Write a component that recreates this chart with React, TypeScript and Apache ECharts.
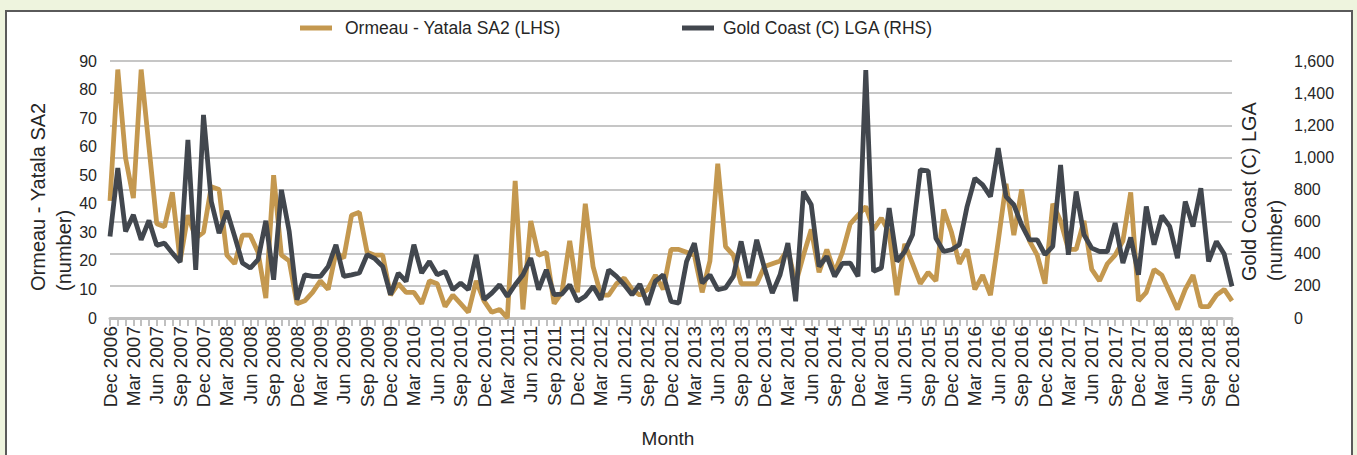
import React, { useEffect, useRef } from "react";
import * as echarts from "echarts";

const MONTH_NAMES = ["Jan", "Feb", "Mar", "Apr", "May", "Jun", "Jul", "Aug", "Sep", "Oct", "Nov", "Dec"];
const START_YEAR = 2006;
const START_MONTH_INDEX = 11; // Dec
const MONTH_COUNT = 145; // Dec 2006 .. Dec 2018

const categories: string[] = Array.from({ length: MONTH_COUNT }, (_, i) => {
  const m = (START_MONTH_INDEX + i) % 12;
  const y = START_YEAR + Math.floor((START_MONTH_INDEX + i) / 12);
  return `${MONTH_NAMES[m]} ${y}`;
});

const SERIES_LEFT_NAME = "Ormeau - Yatala SA2 (LHS)";
const SERIES_RIGHT_NAME = "Gold Coast (C) LGA (RHS)";

// Ormeau - Yatala SA2 (left axis)
const ormeau: number[] = [
  41, 87, 56, 42, 87, 60, 33, 32, 44, 20, 36, 28, 30, 46, 45, 22, 19, 29, 29, 23,
  7, 50, 22, 20, 5, 6, 9, 13, 10, 23, 21, 36, 37, 23, 22, 22, 8, 12, 9, 9,
  5, 13, 12, 4, 8, 5, 2, 13, 6, 2, 3, 0, 48, 3, 34, 22, 23, 5, 9, 27,
  9, 40, 18, 8, 8, 12, 14, 10, 8, 10, 15, 10, 24, 24, 23, 22, 9, 20, 54, 25,
  22, 12, 12, 12, 18, 19, 20, 24, 12, 22, 31, 16, 24, 16, 23, 33, 36, 39, 31, 35,
  30, 8, 26, 19, 12, 16, 13, 38, 30, 19, 24, 10, 15, 8, 27, 47, 29, 45, 27, 22,
  12, 40, 34, 24, 24, 34, 17, 13, 19, 22, 27, 44, 6, 9, 17, 15, 9, 3, 10, 15,
  4, 4, 8, 10, 6,
];

// Gold Coast (C) LGA (right axis)
const goldCoast: number[] = [
  508, 933, 539, 642, 487, 607, 452, 466, 404, 348, 1109, 300, 1264, 725, 528, 667, 508, 342, 311, 363,
  605, 238, 798, 539, 114, 269, 259, 259, 321, 456, 259, 269, 280, 394, 369, 321, 145, 280, 228, 456,
  280, 352, 269, 290, 176, 218, 176, 394, 114, 155, 207, 135, 207, 269, 373, 176, 300, 145, 149, 207,
  104, 135, 197, 114, 300, 259, 207, 145, 211, 83, 230, 269, 104, 93, 352, 466, 218, 269, 176, 187,
  259, 477, 249, 487, 311, 155, 269, 466, 104, 788, 705, 321, 383, 259, 340, 342, 259, 1544, 290, 311,
  684, 352, 414, 518, 922, 916, 497, 414, 425, 456, 694, 870, 829, 756, 1057, 756, 705, 580, 487, 487,
  394, 446, 953, 394, 788, 518, 435, 414, 414, 591, 342, 502, 269, 694, 456, 638, 570, 373, 725, 570,
  808, 352, 477, 398, 197,
];

const LEFT_AXIS = { min: 0, max: 90, interval: 10 };
const RIGHT_AXIS = { min: 0, max: 1600, interval: 200 };

const LEFT_TITLE = ["Ormeau - Yatala SA2", "(number)"];
const RIGHT_TITLE = ["Gold Coast (C) LGA", "(number)"];
const X_TITLE = "Month";

const FONT = "'Liberation Sans', Arial, sans-serif";
const TEXT_COLOR = "#262626";
const TAN = "#C4984F";
const DARK = "#42474E";
const GRID_GREY = "#C6C6C6";

function withCommas(v: number): string {
  return String(v).replace(/\B(?=(\d{3})+(?!\d))/g, ",");
}

export default function App() {
  const ref = useRef<HTMLDivElement>(null);

  useEffect(() => {
    document.body.style.margin = "0";
    const chart = echarts.init(ref.current!, null, { renderer: "svg" });
    chart.setOption({
      animation: false,
      textStyle: { fontFamily: FONT },
      grid: {
        left: 110,
        right: 125,
        top: 61,
        bottom: 137,
        outerBoundsMode: "none",
      },
      legend: [
        {
          data: [SERIES_LEFT_NAME],
          left: 300,
          top: 19,
          padding: 0,
          icon: "rect",
          itemWidth: 32,
          itemHeight: 5,
          textStyle: { fontSize: 17.5, color: TEXT_COLOR, fontFamily: FONT, padding: [0, 0, 0, 8] },
        },
        {
          data: [SERIES_RIGHT_NAME],
          left: 682,
          top: 19,
          padding: 0,
          icon: "rect",
          itemWidth: 32,
          itemHeight: 5,
          textStyle: { fontSize: 17.5, color: TEXT_COLOR, fontFamily: FONT, padding: [0, 0, 0, 4] },
        },
      ],
      xAxis: {
        type: "category",
        data: categories,
        boundaryGap: false,
        axisLine: { lineStyle: { color: "#C0C0C0", width: 3 } },
        axisTick: { show: true, interval: 0, length: 8, lineStyle: { color: "#C0C0C0", width: 2 } },
        axisLabel: {
          interval: 2,
          rotate: 90,
          fontSize: 19,
          color: TEXT_COLOR,
          fontFamily: FONT,
          margin: 8,
        },
        splitLine: { show: false },
      },
      yAxis: [
        {
          type: "value",
          position: "left",
          min: LEFT_AXIS.min,
          max: LEFT_AXIS.max,
          interval: LEFT_AXIS.interval,
          axisLine: { show: false },
          axisTick: { show: false },
          splitLine: { show: false },
          axisLabel: { fontSize: 16, color: TEXT_COLOR, fontFamily: FONT, margin: 13 },
        },
        {
          type: "value",
          position: "right",
          min: RIGHT_AXIS.min,
          max: RIGHT_AXIS.max,
          interval: RIGHT_AXIS.interval,
          axisLine: { show: false },
          axisTick: { show: false },
          splitLine: { show: true, lineStyle: { color: GRID_GREY, width: 2 } },
          axisLabel: {
            fontSize: 16,
            color: TEXT_COLOR,
            fontFamily: FONT,
            margin: 62,
            formatter: (v: number) => withCommas(v),
          },
        },
      ],
      graphic: [
        {
          type: "text",
          x: 38,
          y: 291,
          rotation: Math.PI / 2,
          style: { text: LEFT_TITLE[0], fontSize: 20, fill: TEXT_COLOR, fontFamily: FONT, textAlign: "left", textVerticalAlign: "middle" },
        },
        {
          type: "text",
          x: 64,
          y: 291,
          rotation: Math.PI / 2,
          style: { text: LEFT_TITLE[1], fontSize: 20, fill: TEXT_COLOR, fontFamily: FONT, textAlign: "left", textVerticalAlign: "middle" },
        },
        {
          type: "text",
          x: 1249,
          y: 281,
          rotation: Math.PI / 2,
          style: { text: RIGHT_TITLE[0], fontSize: 20, fill: TEXT_COLOR, fontFamily: FONT, textAlign: "left", textVerticalAlign: "middle" },
        },
        {
          type: "text",
          x: 1275,
          y: 281,
          rotation: Math.PI / 2,
          style: { text: RIGHT_TITLE[1], fontSize: 20, fill: TEXT_COLOR, fontFamily: FONT, textAlign: "left", textVerticalAlign: "middle" },
        },
        {
          type: "text",
          x: 668,
          y: 438,
          style: { text: X_TITLE, fontSize: 19, fill: TEXT_COLOR, fontFamily: FONT, textAlign: "center", textVerticalAlign: "middle" },
        },
      ],
      series: [
        {
          name: SERIES_LEFT_NAME,
          type: "line",
          yAxisIndex: 0,
          data: ormeau,
          symbol: "none",
          color: TAN,
          lineStyle: { color: TAN, width: 4.8 },
          z: 2,
        },
        {
          name: SERIES_RIGHT_NAME,
          type: "line",
          yAxisIndex: 1,
          data: goldCoast,
          symbol: "none",
          color: DARK,
          lineStyle: { color: DARK, width: 4.8 },
          z: 3,
        },
      ],
    });
    return () => chart.dispose();
  }, []);

  return (
    <div
      style={{
        position: "fixed",
        left: 0,
        top: 0,
        width: 1357,
        height: 455,
        background: "#EEF4DE",
        overflow: "hidden",
      }}
    >
      <div
        style={{
          position: "absolute",
          left: 5,
          top: 10,
          width: 1348,
          height: 480,
          background: "#FFFFFF",
          border: "2px solid #5A5A5A",
          boxSizing: "border-box",
        }}
      />
      <div ref={ref} style={{ position: "absolute", left: 0, top: 0, width: 1357, height: 455 }} />
    </div>
  );
}
